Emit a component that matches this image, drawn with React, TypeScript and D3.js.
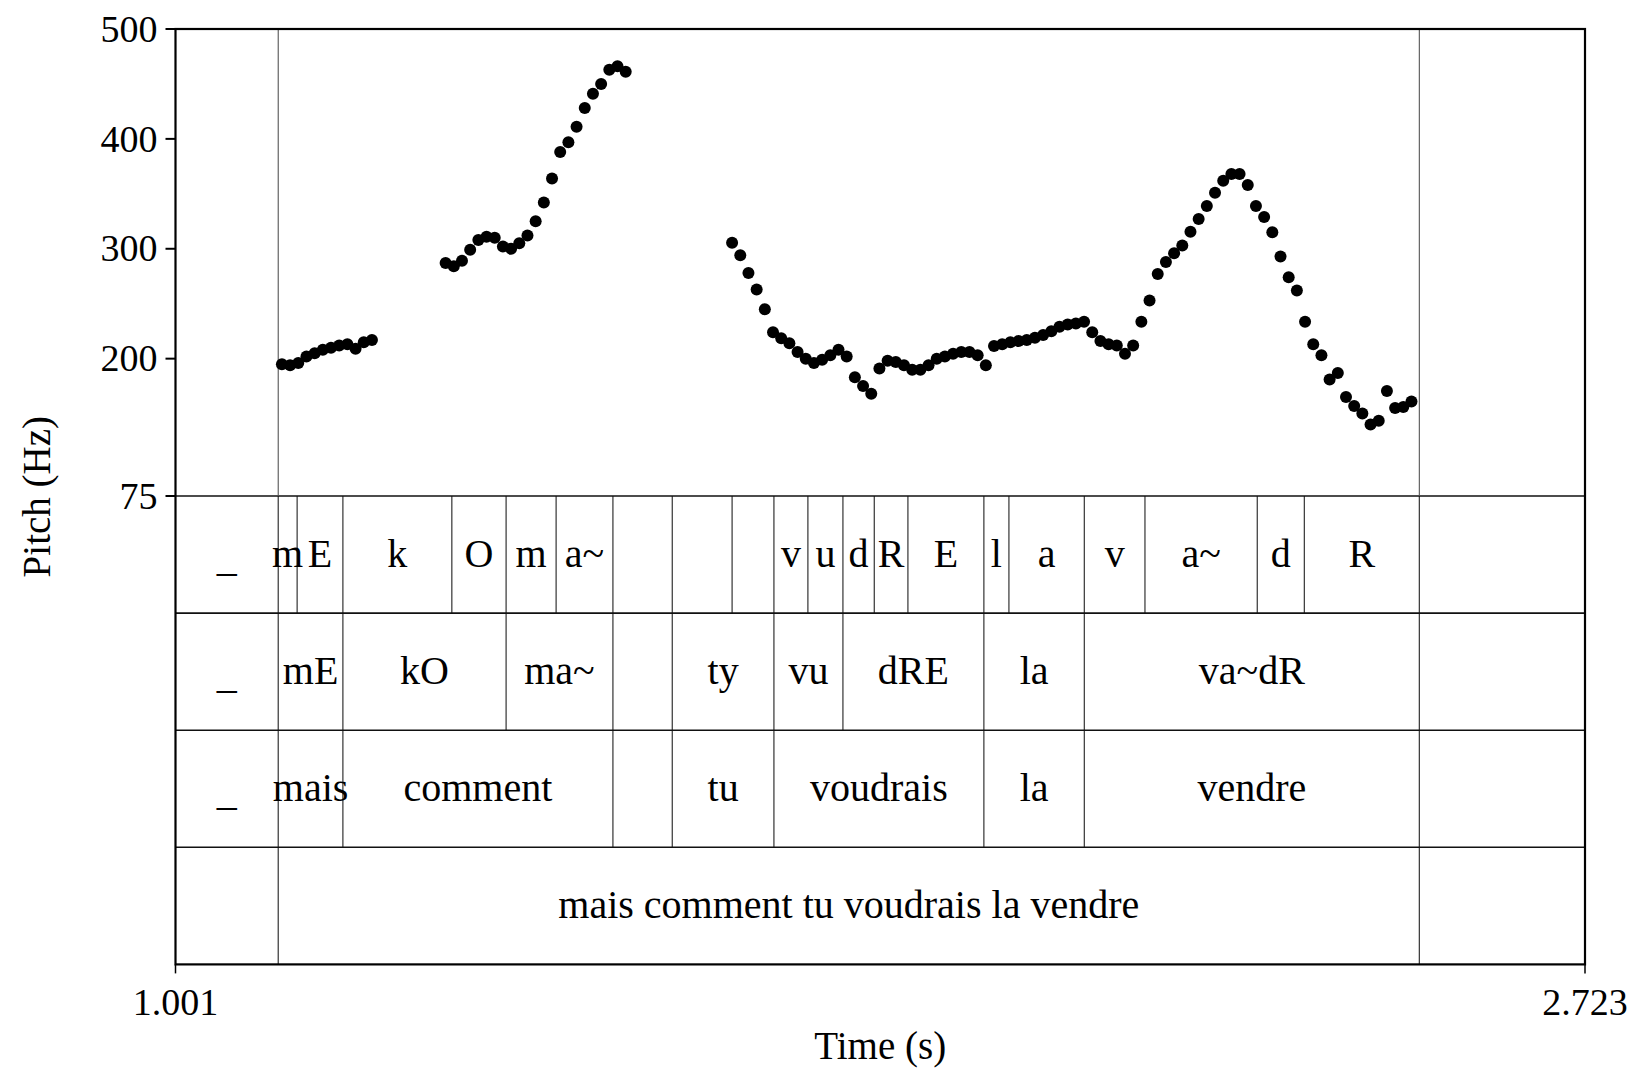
import React, { useEffect, useRef } from 'react';
import * as d3 from 'd3';

const timeDomain: [number, number] = [1.001, 2.723];
const pitchDomain: [number, number] = [75, 500];
const pitchTicks = [75, 200, 300, 400, 500];
const timeTicks = [1.001, 2.723];

// voiced stretches of the pitch track, [time (s), f0 (Hz)]
const pitchRun1: [number, number][] = [
  [1.131, 195], [1.141, 194], [1.151, 196], [1.161, 202], [1.171, 205], [1.181, 208],
  [1.191, 210], [1.201, 212], [1.211, 213], [1.221, 209], [1.231, 215], [1.241, 217],
];

const pitchRun2: [number, number][] = [
  [1.331, 287], [1.341, 284], [1.351, 289], [1.361, 299], [1.371, 308], [1.381, 311],
  [1.391, 310], [1.401, 302], [1.411, 300], [1.421, 305], [1.431, 312], [1.441, 325],
  [1.451, 342], [1.461, 364], [1.471, 388], [1.481, 397], [1.491, 411], [1.501, 428],
  [1.511, 441], [1.521, 450], [1.531, 463], [1.541, 466], [1.551, 461],
];

const pitchRun3: [number, number][] = [
  [1.681, 305.5], [1.691, 294], [1.701, 278], [1.711, 263], [1.721, 245], [1.731, 224],
  [1.741, 218.5], [1.751, 214], [1.761, 206], [1.771, 200], [1.781, 196], [1.791, 199],
  [1.801, 203], [1.811, 208], [1.821, 202], [1.831, 183], [1.841, 175], [1.851, 168],
  [1.861, 191], [1.871, 198], [1.881, 197], [1.891, 194], [1.901, 190], [1.911, 190],
  [1.921, 194], [1.931, 200], [1.941, 202], [1.951, 204.5], [1.961, 206], [1.971, 206],
  [1.981, 203], [1.991, 194], [2.001, 211.5], [2.011, 213], [2.021, 215], [2.031, 216],
  [2.041, 217], [2.051, 219], [2.061, 221.5], [2.071, 225], [2.081, 229], [2.091, 231],
  [2.101, 232], [2.111, 233.5], [2.121, 224], [2.131, 216], [2.141, 213], [2.151, 212],
  [2.161, 204.5], [2.171, 212], [2.181, 233.5], [2.191, 253], [2.201, 277], [2.211, 288],
  [2.221, 296], [2.231, 303], [2.241, 315.5], [2.251, 327], [2.261, 339], [2.271, 351],
  [2.281, 362], [2.291, 368], [2.301, 368], [2.311, 358], [2.321, 339], [2.331, 329],
  [2.341, 315], [2.351, 293], [2.361, 274], [2.371, 262], [2.381, 233.5], [2.391, 213],
  [2.401, 203], [2.411, 181], [2.421, 187], [2.431, 165], [2.441, 157], [2.451, 150],
  [2.461, 140], [2.471, 143.5], [2.481, 170.5], [2.491, 155], [2.501, 156], [2.511, 161],
];

// TextGrid tiers: interval boundaries (s) and their labels
const phoneBounds = [1.001, 1.1265, 1.1496, 1.2055, 1.3386, 1.4049, 1.466, 1.5354, 1.6079, 1.681,
  1.7321, 1.7736, 1.8164, 1.8547, 1.8958, 1.9886, 2.0192, 2.1113, 2.1854, 2.3226, 2.3801, 2.5206, 2.723];
const phoneLabels = ['_', 'm', 'E', 'k', 'O', 'm', 'a~', '', '', '', 'v', 'u', 'd', 'R', 'E', 'l', 'a',
  'v', 'a~', 'd', 'R', ''];

const syllableBounds = [1.001, 1.1265, 1.2055, 1.4049, 1.5354, 1.6079, 1.7321, 1.8164, 1.9886, 2.1113, 2.5206, 2.723];
const syllableLabels = ['_', 'mE', 'kO', 'ma~', '', 'ty', 'vu', 'dRE', 'la', 'va~dR', ''];

const wordBounds = [1.001, 1.1265, 1.2055, 1.5354, 1.6079, 1.7321, 1.9886, 2.1113, 2.5206, 2.723];
const wordLabels = ['_', 'mais', 'comment', '', 'tu', 'voudrais', 'la', 'vendre', ''];

const sentenceBounds = [1.001, 1.1265, 2.5206, 2.723];
const sentenceLabels = ['', 'mais comment tu voudrais la vendre', ''];

const App: React.FC = () => {
  const svgRef = useRef<SVGSVGElement>(null);

  useEffect(() => {
    if (!svgRef.current) return;

    const W = 1632;
    const H = 1068;
    const left = 175.5;
    const right = 1585;
    const top = 29;
    const pitchBottom = 496;
    const tierH = 117.1;
    const font = "'Liberation Serif', 'Times New Roman', serif";

    const tiers = [
      { bounds: phoneBounds, labels: phoneLabels },
      { bounds: syllableBounds, labels: syllableLabels },
      { bounds: wordBounds, labels: wordLabels },
      { bounds: sentenceBounds, labels: sentenceLabels },
    ];
    const bottom = pitchBottom + tiers.length * tierH;

    const svg = d3.select(svgRef.current)
      .attr('width', W)
      .attr('height', H)
      .attr('font-family', font);

    svg.selectAll('*').remove();

    const x = d3.scaleLinear().domain(timeDomain).range([left, right]);
    const y = d3.scaleLinear().domain(pitchDomain).range([pitchBottom, top]);

    // tiers
    tiers.forEach((tier, i) => {
      const y0 = pitchBottom + i * tierH;
      const g = svg.append('g');

      g.selectAll('line')
        .data(tier.bounds.slice(1, -1))
        .enter()
        .append('line')
        .attr('x1', d => x(d))
        .attr('x2', d => x(d))
        .attr('y1', y0)
        .attr('y2', y0 + tierH)
        .attr('stroke', '#333')
        .attr('stroke-width', 1.2);

      g.selectAll('text')
        .data(tier.labels)
        .enter()
        .append('text')
        .attr('x', (d, j) => (x(tier.bounds[j]) + x(tier.bounds[j + 1])) / 2)
        .attr('y', d => y0 + tierH / 2 + (d === '_' ? 16 : 12))
        .attr('text-anchor', 'middle')
        .attr('font-size', 40)
        .attr('fill', '#000')
        .text(d => d);

      svg.append('line')
        .attr('x1', left)
        .attr('x2', right)
        .attr('y1', y0)
        .attr('y2', y0)
        .attr('stroke', '#111')
        .attr('stroke-width', 1.6);
    });

    // sentence boundaries carried up through the pitch panel
    svg.append('g')
      .selectAll('line')
      .data(sentenceBounds.slice(1, -1))
      .enter()
      .append('line')
      .attr('x1', d => x(d))
      .attr('x2', d => x(d))
      .attr('y1', top)
      .attr('y2', pitchBottom)
      .attr('stroke', '#555')
      .attr('stroke-width', 1.1);

    // pitch points
    const points = [...pitchRun1, ...pitchRun2, ...pitchRun3];
    svg.append('g')
      .selectAll('circle')
      .data(points)
      .enter()
      .append('circle')
      .attr('cx', d => x(d[0]))
      .attr('cy', d => y(d[1]))
      .attr('r', 6)
      .attr('fill', '#000');

    // frame
    svg.append('rect')
      .attr('x', left)
      .attr('y', top)
      .attr('width', right - left)
      .attr('height', bottom - top)
      .attr('fill', 'none')
      .attr('stroke', '#000')
      .attr('stroke-width', 2.2);

    // pitch axis
    const yAxis = svg.append('g');
    pitchTicks.forEach(t => {
      yAxis.append('line')
        .attr('x1', left - 10)
        .attr('x2', left)
        .attr('y1', y(t))
        .attr('y2', y(t))
        .attr('stroke', '#000')
        .attr('stroke-width', 2);
      yAxis.append('text')
        .attr('x', left - 18)
        .attr('y', y(t) + 12.7)
        .attr('text-anchor', 'end')
        .attr('font-size', 38)
        .text(String(t));
    });

    // time axis
    const xAxis = svg.append('g');
    timeTicks.forEach(t => {
      xAxis.append('line')
        .attr('x1', x(t))
        .attr('x2', x(t))
        .attr('y1', bottom)
        .attr('y2', bottom + 9)
        .attr('stroke', '#000')
        .attr('stroke-width', 1.5);
      xAxis.append('text')
        .attr('x', x(t))
        .attr('y', 1015)
        .attr('text-anchor', 'middle')
        .attr('font-size', 38)
        .text(t.toFixed(3));
    });

    svg.append('text')
      .attr('x', (left + right) / 2)
      .attr('y', 1059)
      .attr('text-anchor', 'middle')
      .attr('font-size', 39)
      .text('Time (s)');

    svg.append('text')
      .attr('transform', `translate(50,${(top + bottom) / 2}) rotate(-90)`)
      .attr('text-anchor', 'middle')
      .attr('font-size', 39)
      .text('Pitch (Hz)');
  }, []);

  return (
    <svg ref={svgRef} style={{ position: 'absolute', left: 0, top: 0, display: 'block', background: '#fff' }} />
  );
};

export default App;
